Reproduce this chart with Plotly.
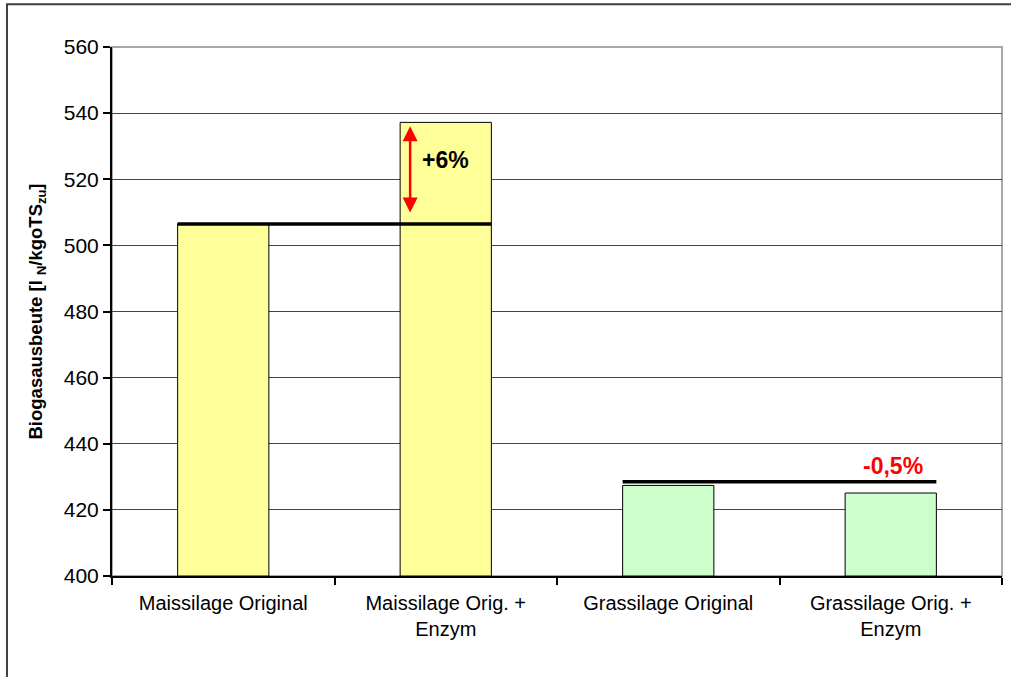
import plotly.graph_objects as go

# Daten
categories = ["Maissilage Original", "Maissilage Orig. +<br>Enzym",
              "Grassilage Original", "Grassilage Orig. +<br>Enzym"]
yields = [506.6, 537.2, 427.4, 425.1]
bar_colors = ["#FFFF99", "#FFFF99", "#CCFFCC", "#CCFFCC"]

# Referenzlinien: Niveau, von Kategorie, bis Kategorie
ref_levels = [506.5, 428.5]
ref_from = [0, 2]
ref_to = [1, 3]

# Pfeil +6 %
arrow_x = 0.84
arrow_low, arrow_high = 509.5, 536.0

labels = ["+6%", "-0,5%"]
label_x = [1.0, 3.01]
label_y = [525.8, 433.3]
label_colors = ["black", "red"]

bar_w = 0.41
font = "Liberation Sans, Arial, sans-serif"

fig = go.Figure()

fig.add_trace(go.Bar(
    x=categories, y=[v - 400 for v in yields], base=400,
    width=bar_w,
    marker=dict(color=bar_colors, line=dict(color="black", width=1)),
    showlegend=False
))

# Rahmen Plotbereich + Außenrahmen
fig.add_shape(type="rect", xref="paper", yref="paper", x0=0, x1=1, y0=0, y1=1,
              line=dict(color="#8c8c8c", width=1.5), layer="below")
fig.add_shape(type="rect", xref="paper", yref="paper", x0=-0.118, x1=1.2, y0=-0.5, y1=1.081,
              line=dict(color="#404040", width=2))

for lvl, a, b in zip(ref_levels, ref_from, ref_to):
    fig.add_shape(type="line", xref="x", yref="y",
                  x0=a - bar_w / 2, x1=b + bar_w / 2, y0=lvl, y1=lvl,
                  line=dict(color="black", width=3.5))

fig.add_annotation(x=arrow_x, y=arrow_high, ax=arrow_x, ay=arrow_low,
                   xref="x", yref="y", axref="x", ayref="y",
                   text="", showarrow=True, arrowside="end+start",
                   arrowhead=2, arrowsize=1.2, arrowwidth=2.5, arrowcolor="red")

for t, x, y, c in zip(labels, label_x, label_y, label_colors):
    fig.add_annotation(x=x, y=y, xref="x", yref="y", text=f"<b>{t}</b>",
                       showarrow=False, font=dict(size=23, color=c, family=font))

fig.update_layout(
    width=1011, height=677,
    margin=dict(l=112, r=9, t=47, b=101),
    plot_bgcolor="white", paper_bgcolor="white",
    font=dict(family=font, color="black"),
    bargap=0.59,
)

fig.update_yaxes(
    range=[400, 560], dtick=20, tickfont=dict(size=21),
    ticks="outside", ticklen=7, tickwidth=2, tickcolor="black",
    showline=True, linewidth=2, linecolor="black",
    showgrid=True, gridcolor="#444444", gridwidth=1,
    title=dict(text="<b>Biogasausbeute [l <sub>N</sub>/kgoTS<sub>zu</sub>]</b>",
               font=dict(size=18.5), standoff=16),
    zeroline=False,
)
fig.update_xaxes(
    tickson="boundaries", ticks="outside", ticklen=7, tickwidth=2, tickcolor="black",
    showline=True, linewidth=2, linecolor="black", showgrid=False,
    tickfont=dict(size=20), range=[-0.5, 3.5], ticklabelstandoff=8,
)

fig.write_html("out.html", config={"displayModeBar": False},
               post_script="document.body.style.margin='0';")
